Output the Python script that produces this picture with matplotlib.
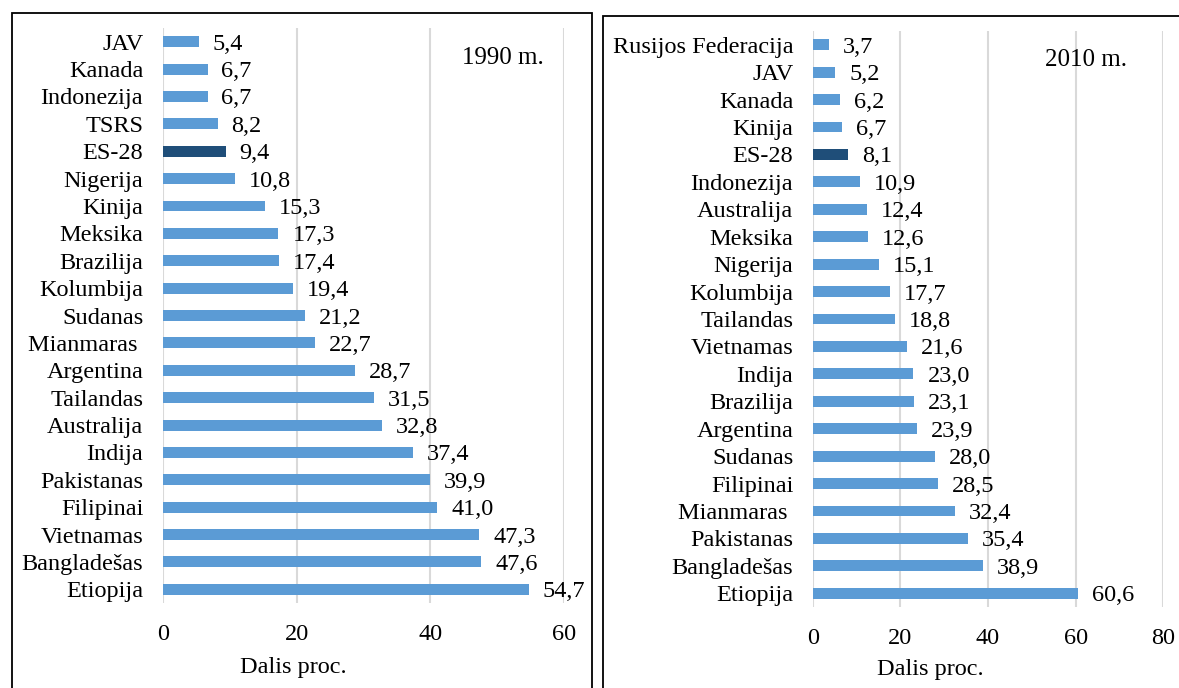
import matplotlib
matplotlib.use("Agg")
import matplotlib.pyplot as plt
from matplotlib.patches import Rectangle
import numpy as np

plt.rcParams['font.family'] = ['Liberation Serif', 'DejaVu Serif']

# ---- data ----
cats_1990 = ["JAV", "Kanada", "Indonezija", "TSRS", "ES-28", "Nigerija", "Kinija",
             "Meksika", "Brazilija", "Kolumbija", "Sudanas", "Mianmaras ", "Argentina",
             "Tailandas", "Australija", "Indija", "Pakistanas", "Filipinai",
             "Vietnamas", "Bangladešas", "Etiopija"]
vals_1990 = [5.4, 6.7, 6.7, 8.2, 9.4, 10.8, 15.3, 17.3, 17.4, 19.4, 21.2, 22.7, 28.7,
             31.5, 32.8, 37.4, 39.9, 41.0, 47.3, 47.6, 54.7]

cats_2010 = ["Rusijos Federacija", "JAV", "Kanada", "Kinija", "ES-28", "Indonezija",
             "Australija", "Meksika", "Nigerija", "Kolumbija", "Tailandas", "Vietnamas",
             "Indija", "Brazilija", "Argentina", "Sudanas", "Filipinai", "Mianmaras ",
             "Pakistanas", "Bangladešas", "Etiopija"]
vals_2010 = [3.7, 5.2, 6.2, 6.7, 8.1, 10.9, 12.4, 12.6, 15.1, 17.7, 18.8, 21.6, 23.0,
             23.1, 23.9, 28.0, 28.5, 32.4, 35.4, 38.9, 60.6]

xticks_1990 = [0, 20, 40, 60]
xticks_2010 = [0, 20, 40, 60, 80]
highlight = "ES-28"
xlabel = "Dalis proc."

BLUE = "#5B9BD5"
DARK = "#1F4E79"
GRID = "#D9D9D9"
FS = 17.5

W, H = 1179, 688
fig = plt.figure(figsize=(W / 100, H / 100), dpi=100)


def px_axes(x0, x1, ytop, ybot):
    return fig.add_axes([x0 / W, 1 - ybot / H, (x1 - x0) / W, (ybot - ytop) / H])


def draw(ax, cats, vals, xticks, title, title_xy, label_x, label_y):
    n = len(cats)
    y = np.arange(n)
    colors = [DARK if c == highlight else BLUE for c in cats]
    ax.barh(y, vals, height=0.4, color=colors, zorder=3)
    ax.set_xlim(xticks[0], xticks[-1])
    ax.set_ylim(n - 0.5, -0.5)
    ax.set_yticks(y)
    ax.set_yticklabels(cats, fontsize=FS)
    ax.set_xticks(xticks)
    ax.set_xticklabels([str(t) for t in xticks], fontsize=FS)
    ax.tick_params(axis='y', length=0, pad=14)
    ax.tick_params(axis='x', length=0, pad=15)
    for s in ax.spines.values():
        s.set_visible(False)
    ax.grid(axis='x', color=GRID, linewidth=1.5, zorder=0)
    ax.set_axisbelow(True)
    for yi, v in zip(y, vals):
        ax.annotate(f"{v:.1f}".replace('.', ','), xy=(v, yi), xytext=(10, 0),
                    textcoords='offset points', va='center_baseline', ha='left',
                    fontsize=FS)
    ax.set_xlabel(xlabel, fontsize=FS)
    ax.xaxis.label.set_va('center')
    ax.xaxis.set_label_coords(label_x, label_y)
    fig.text(title_xy[0] / W, 1 - title_xy[1] / H, title, fontsize=18,
             ha='center', va='baseline')


ax1 = px_axes(162.7, 564.3, 28, 603)
draw(ax1, cats_1990, vals_1990, xticks_1990, "1990 m.", (503, 64), 0.324, -0.112)

ax2 = px_axes(812.7, 1163.3, 31, 607)
draw(ax2, cats_2010, vals_2010, xticks_2010, "2010 m.", (1086, 66), 0.335, -0.108)

# panel borders
for (x0, x1, yt) in [(11.5, 592, 12.5), (602.5, 1200, 16)]:
    fig.add_artist(Rectangle((x0 / W, -0.1), (x1 - x0) / W, (1 - yt / H) + 0.1,
                             transform=fig.transFigure, fill=False,
                             edgecolor='black', linewidth=1.3, clip_on=False))

fig.savefig("out.png", dpi=100)
